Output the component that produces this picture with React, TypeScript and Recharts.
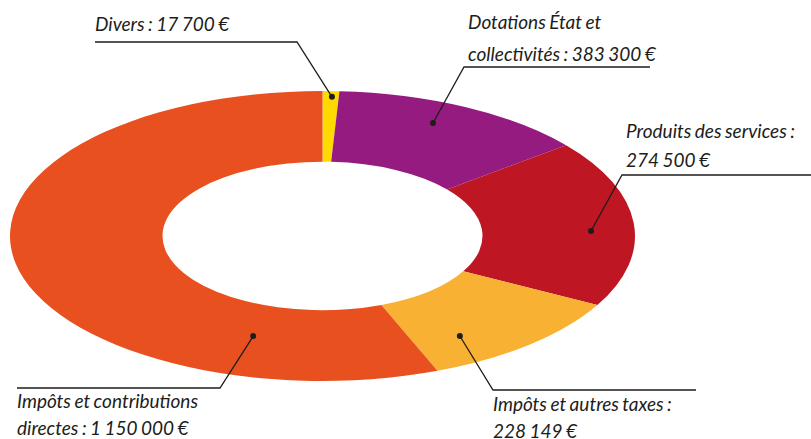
import { PieChart, Pie, Cell } from "recharts";

// categories and the amounts written on the labels
const categories = [
  "Divers",
  "Dotations État et collectivités",
  "Produits des services",
  "Impôts et autres taxes",
  "Impôts et contributions directes",
];
const labelAmounts = [17700, 383300, 274500, 228149, 1150000];
// slice sizes as drawn in the picture (the two middle amounts are swapped there)
const sliceValues = [17700, 274500, 383300, 228149, 1150000];
const colors = ["#FFDA00", "#951B81", "#BE1622", "#F8B133", "#E8511F"];

const data = categories.map((name, i) => ({ name, value: sliceValues[i], amount: labelAmounts[i] }));

const SQUASH = 0.464; // vertical ratio of the ellipse
const RAD = Math.PI / 180;

// where each label sits: dot (angle/depth in the ring), elbow, end of line, text
const labelLayout = [
  { angle: 88.2, depth: 0.96, elbow: [297, 42], end: [95, 42], tx: 95, ty: [31], breakAt: 0 },
  { angle: 65.6, depth: 0.856, elbow: [464, 67], end: [650, 67], tx: 468, ty: [29, 61], breakAt: 3 },
  { angle: 2.3, depth: 0.86, elbow: [622, 175], end: [811, 175], tx: 626, ty: [138, 167], breakAt: 4 },
  { angle: -57.5, depth: 0.818, elbow: [493, 390], end: [696, 390], tx: 493, ty: [411, 438], breakAt: 5 },
  { angle: -107.8, depth: 0.725, elbow: [220, 388], end: [17, 388], tx: 17, ty: [408, 435], breakAt: 3 },
];

const fmt = (n: number) => String(n).replace(/\B(?=(\d{3})+(?!\d))/g, " ") + " €";

const EllipseSector = (props: any) => {
  const { cx, cy, innerRadius, outerRadius, startAngle, endAngle, fill } = props;
  const pt = (r: number, a: number) => [cx + r * Math.cos(a * RAD), cy - r * SQUASH * Math.sin(a * RAD)];
  const delta = endAngle - startAngle;
  const large = Math.abs(delta) > 180 ? 1 : 0;
  const sweep = delta < 0 ? 1 : 0;
  const [x1, y1] = pt(outerRadius, startAngle);
  const [x2, y2] = pt(outerRadius, endAngle);
  const [x3, y3] = pt(innerRadius, endAngle);
  const [x4, y4] = pt(innerRadius, startAngle);
  const d =
    `M${x1},${y1} A${outerRadius},${outerRadius * SQUASH} 0 ${large} ${sweep} ${x2},${y2} ` +
    `L${x3},${y3} A${innerRadius},${innerRadius * SQUASH} 0 ${large} ${1 - sweep} ${x4},${y4} Z`;
  return <path d={d} fill={fill} stroke="none" />;
};

const renderLabel = (props: any) => {
  const { cx, cy, outerRadius, index } = props;
  const l = labelLayout[index];
  const entry = data[index];
  const dx = cx + outerRadius * l.depth * Math.cos(l.angle * RAD);
  const dy = cy - outerRadius * SQUASH * l.depth * Math.sin(l.angle * RAD);
  const words = `${entry.name} : ${fmt(entry.amount)}`.split(" ");
  const lines = l.breakAt ? [words.slice(0, l.breakAt).join(" "), words.slice(l.breakAt).join(" ")] : [words.join(" ")];
  return (
    <g key={`lbl-${index}`}>
      <polyline
        points={`${dx},${dy} ${l.elbow[0]},${l.elbow[1]} ${l.end[0]},${l.end[1]}`}
        fill="none"
        stroke="#1d1d1b"
        strokeWidth={1.3}
      />
      <circle cx={dx} cy={dy} r={3} fill="#1d1d1b" />
      {lines.map((t, i) => (
        <text
          key={i}
          x={l.tx}
          y={l.ty[i]}
          fill="#1d1d1b"
          fontFamily="Lato"
          fontStyle="italic"
          fontSize={19}
          wordSpacing={-1}
          textAnchor="start"
        >
          {t}
        </text>
      ))}
    </g>
  );
};

const App = () => {
  return (
    <div style={{ position: "absolute", left: 0, top: 0 }}>
      <PieChart width={811} height={439} margin={{ top: 0, right: 0, bottom: 0, left: 0 }}>
        <Pie
          data={data}
          dataKey="value"
          nameKey="name"
          cx={322.5}
          cy={236}
          outerRadius={312.5}
          innerRadius={160}
          startAngle={90}
          endAngle={-270}
          stroke="none"
          shape={EllipseSector}
          label={renderLabel}
          labelLine={false}
          isAnimationActive={false}
        >
          {data.map((d, i) => (
            <Cell key={d.name} fill={colors[i]} />
          ))}
        </Pie>
      </PieChart>
    </div>
  );
};

export default App;
